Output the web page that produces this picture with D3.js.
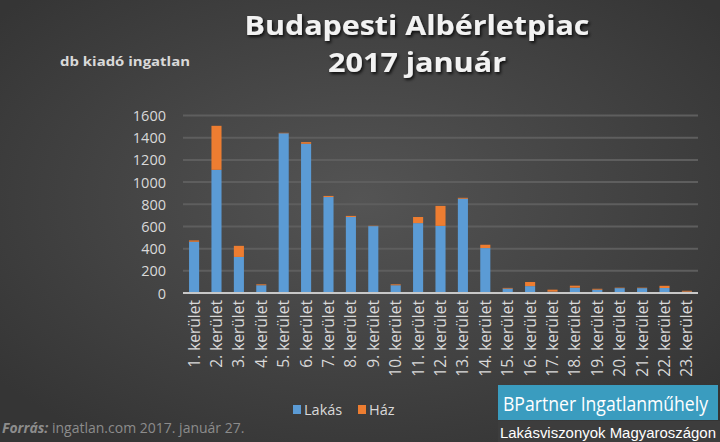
<!DOCTYPE html>
<html><head><meta charset="utf-8">
<script src="https://cdn.jsdelivr.net/npm/d3@7"></script>
<style>html,body{margin:0;padding:0;background:#3a3a3a;}svg{display:block;}</style>
</head><body>
<script>
const categories = ["1. kerület","2. kerület","3. kerület","4. kerület","5. kerület","6. kerület","7. kerület","8. kerület","9. kerület","10. kerület","11. kerület","12. kerület","13. kerület","14. kerület","15. kerület","16. kerület","17. kerület","18. kerület","19. kerület","20. kerület","21. kerület","22. kerület","23. kerület"];
const lakas = [462,1110,325,70,1440,1345,865,685,603,70,630,605,850,405,40,62,12,48,30,44,44,45,12];
const haz   = [12, 397, 100,8,  4,  15,  10, 10, 3,  8, 55, 180, 8, 30, 6, 37, 18,18, 8, 4, 4, 20, 8];
const yTicks = [0,200,400,600,800,1000,1200,1400,1600];
const seriesNames = ["Lakás","Ház"];
const colors = ["#5B9BD5","#ED7D31"];

const W=720,H=442;
const svg=d3.select("body").append("svg").attr("width",W).attr("height",H);
const defs=svg.append("defs");
const rg=defs.append("radialGradient").attr("id","bg").attr("cx","50%").attr("cy","45%").attr("r","65%");
rg.append("stop").attr("offset","0%").attr("stop-color","#545454");
rg.append("stop").attr("offset","100%").attr("stop-color","#353535");
svg.append("rect").attr("width",W).attr("height",H).attr("fill","url(#bg)");
const sh=defs.append("filter").attr("id","shadow").attr("x","-10%").attr("y","-30%").attr("width","130%").attr("height","160%");
sh.append("feDropShadow").attr("dx",1.5).attr("dy",2).attr("stdDeviation",1.5).attr("flood-color","#000").attr("flood-opacity",0.8);

const x=d3.scaleBand().domain(categories).range([183,698]).paddingInner(0.55).paddingOuter(0.27);
const y=d3.scaleLinear().domain([0,1600]).range([293,115.5]);

// gridlines
svg.append("g").selectAll("line").data(yTicks.filter(d=>d>0)).join("line")
 .attr("x1",183).attr("x2",698).attr("y1",d=>y(d)).attr("y2",d=>y(d))
 .attr("stroke","#5e5e5e").attr("stroke-width",2);

// y axis
const ya=svg.append("g").attr("transform","translate(166,0)")
 .call(d3.axisLeft(y).tickValues(yTicks).tickFormat(d3.format("d")).tickSize(0).tickPadding(0));
ya.select(".domain").remove();
ya.selectAll("text").attr("fill","#d9d9d9").attr("font-family","'Open Sans',sans-serif").attr("font-size",14.5).attr("dy","0.35em");

// stacked bars
const data=categories.map((c,i)=>({cat:c,Lakás:lakas[i],Ház:haz[i]}));
const stack=d3.stack().keys(seriesNames)(data);
svg.append("g").selectAll("g").data(stack).join("g").attr("fill",(d,i)=>colors[i])
 .selectAll("rect").data(d=>d).join("rect")
 .attr("x",d=>x(d.data.cat)).attr("width",x.bandwidth())
 .attr("y",d=>y(d[1])).attr("height",d=>Math.max(0,y(d[0])-y(d[1])));

// x axis line
svg.append("line").attr("x1",183).attr("x2",698).attr("y1",293).attr("y2",293).attr("stroke","#c8c8c8").attr("stroke-width",2);

// x labels
const xa=svg.append("g").attr("transform","translate(0,293)").call(d3.axisBottom(x).tickSize(0).tickPadding(0));
xa.select(".domain").remove();
xa.selectAll("text").attr("fill","#d9d9d9").attr("font-family","'Open Sans',sans-serif").attr("font-size",15.5)
 .attr("text-anchor","end").attr("transform","rotate(-90)").attr("x",-7).attr("y",0).attr("dy","0.35em");

// title
const tg=svg.append("g").attr("filter","url(#shadow)").attr("fill","#f2f2f2").attr("font-family","'Open Sans',sans-serif").attr("font-weight","bold").attr("text-anchor","middle");
tg.append("text").attr("x",417).attr("y",35).attr("font-size",26).attr("textLength",345).attr("lengthAdjust","spacingAndGlyphs").text("Budapesti Albérletpiac");
tg.append("text").attr("x",417).attr("y",72).attr("font-size",26).attr("textLength",178).attr("lengthAdjust","spacingAndGlyphs").text("2017 január");

svg.append("text").attr("x",60).attr("y",66).attr("fill","#d9d9d9").attr("font-family","'Open Sans',sans-serif").attr("font-weight","bold").attr("font-size",13)
 .attr("textLength",130).attr("lengthAdjust","spacingAndGlyphs").text("db kiadó ingatlan");

// legend
const lg=svg.append("g");
const lx=[293,358];
seriesNames.forEach((n,i)=>{
 lg.append("rect").attr("x",lx[i]).attr("y",405).attr("width",8).attr("height",9).attr("fill",colors[i]);
 lg.append("text").attr("x",lx[i]+11).attr("y",415).attr("fill","#d9d9d9").attr("font-family","'Open Sans',sans-serif").attr("font-size",14.5).text(n);
});

// source
const st=svg.append("text").attr("x",2).attr("y",433).attr("fill","#8c8c8c").attr("font-family","'Open Sans',sans-serif").attr("font-size",14);
st.append("tspan").attr("font-weight","bold").attr("font-style","italic").text("Forrás:");
st.append("tspan").text(" ingatlan.com 2017. január 27.");

// logo
svg.append("rect").attr("x",498).attr("y",385).attr("width",220).attr("height",35).attr("fill","#3a9cbf");
svg.append("text").attr("x",503).attr("y",411).attr("fill","#fff").attr("font-family","'Open Sans',sans-serif").attr("font-size",20)
 .attr("textLength",205).attr("lengthAdjust","spacingAndGlyphs").text("BPartner Ingatlanműhely");
svg.append("rect").attr("x",498).attr("y",421).attr("width",222).attr("height",21).attr("fill","#3d3d3d");
svg.append("text").attr("x",500).attr("y",438).attr("fill","#fff").attr("font-family","'Liberation Sans',sans-serif").attr("font-size",14)
 .attr("textLength",216).attr("lengthAdjust","spacingAndGlyphs").text("Lakásviszonyok Magyaroszágon");
</script>
</body></html>
